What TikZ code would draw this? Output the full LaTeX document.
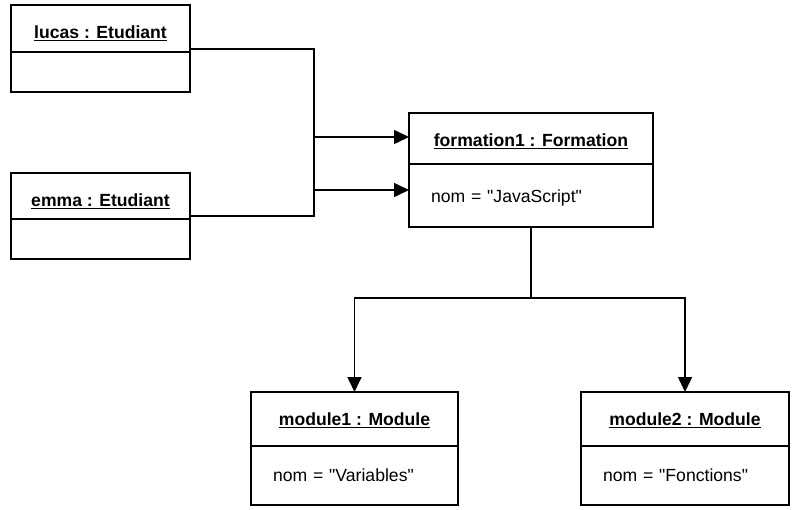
\documentclass[tikz,border=0pt]{standalone}
\usepackage{fontspec}
\setmainfont{Liberation Sans}[Ligatures=TeXOff]
\usepackage{tikz}
\usetikzlibrary{arrows.meta}

\begin{document}
\begin{tikzpicture}[x=1pt, y=-1pt, >={Triangle[length=15pt, width=14pt]},
        font=\fontsize{17.6pt}{21pt}\selectfont,
        box/.style={draw, line width=1.6pt, inner sep=0pt, outer sep=0pt, fill=white},
        objname/.style={box, font=\fontsize{17.6pt}{21pt}\selectfont\bfseries, text height=#1, text depth=3pt},
        objattr/.style={box, align=left, inner xsep=22pt},
        conn/.style={line width=1.6pt}]
    \useasboundingbox (0,0) rectangle (800,510);
    % students
    \node[objname=24pt, minimum width=179pt, minimum height=47pt] (lucas) at (100.5, 28.5) {\underline{lucas : Etudiant}};
    \node[box, minimum width=179pt, minimum height=40pt] (lucasA) at (100.5, 72) {};
    \node[objname=24pt, minimum width=179pt, minimum height=46pt] (emma) at (100.5, 196) {\underline{emma : Etudiant}};
    \node[box, minimum width=179pt, minimum height=40pt] (emmaA) at (100.5, 239) {};
    % formation
    \node[objname=18.6pt, minimum width=244pt, minimum height=51pt] (formation) at (531, 138.5) {\underline{formation1 : Formation}};
    \node[objattr, text width=200pt, text height=18.6pt, text depth=3.7pt, minimum height=63pt] (formationA) at (531, 195.5) {nom = "JavaScript"};
    % modules
    \node[objname=15.6pt, minimum width=207pt, minimum height=54pt] (module1) at (354.5, 419) {\underline{module1 : Module}};
    \node[objattr, text width=163pt, minimum height=59pt] (module1A) at (354.5, 475.5) {nom = "Variables"};
    \node[objname=15.6pt, minimum width=208pt, minimum height=54pt] (module2) at (685, 419) {\underline{module2 : Module}};
    \node[objattr, text width=164pt, minimum height=59pt] (module2A) at (685, 475.5) {nom = "Fonctions"};
    % links students -> formation
    \coordinate (bus) at (314, 137);
    \draw[conn] ([yshift=3pt]lucas.south east) -| ([yshift=3pt]bus |- emma.south) -- ([yshift=3pt]emma.south east);
    \draw[conn, ->] (bus) -- (bus -| formation.west);
    \draw[conn, ->] ([yshift=5.5pt]bus |- formationA.west) -- ([yshift=5.5pt]formationA.west);
    % links formation -> modules
    \draw[conn] (formationA.south) -- ++(0, 71) coordinate (split);
    \draw[conn, ->] (split) -| (module1.north);
    \draw[conn, ->] (split) -| (module2.north);
\end{tikzpicture}
\end{document}
